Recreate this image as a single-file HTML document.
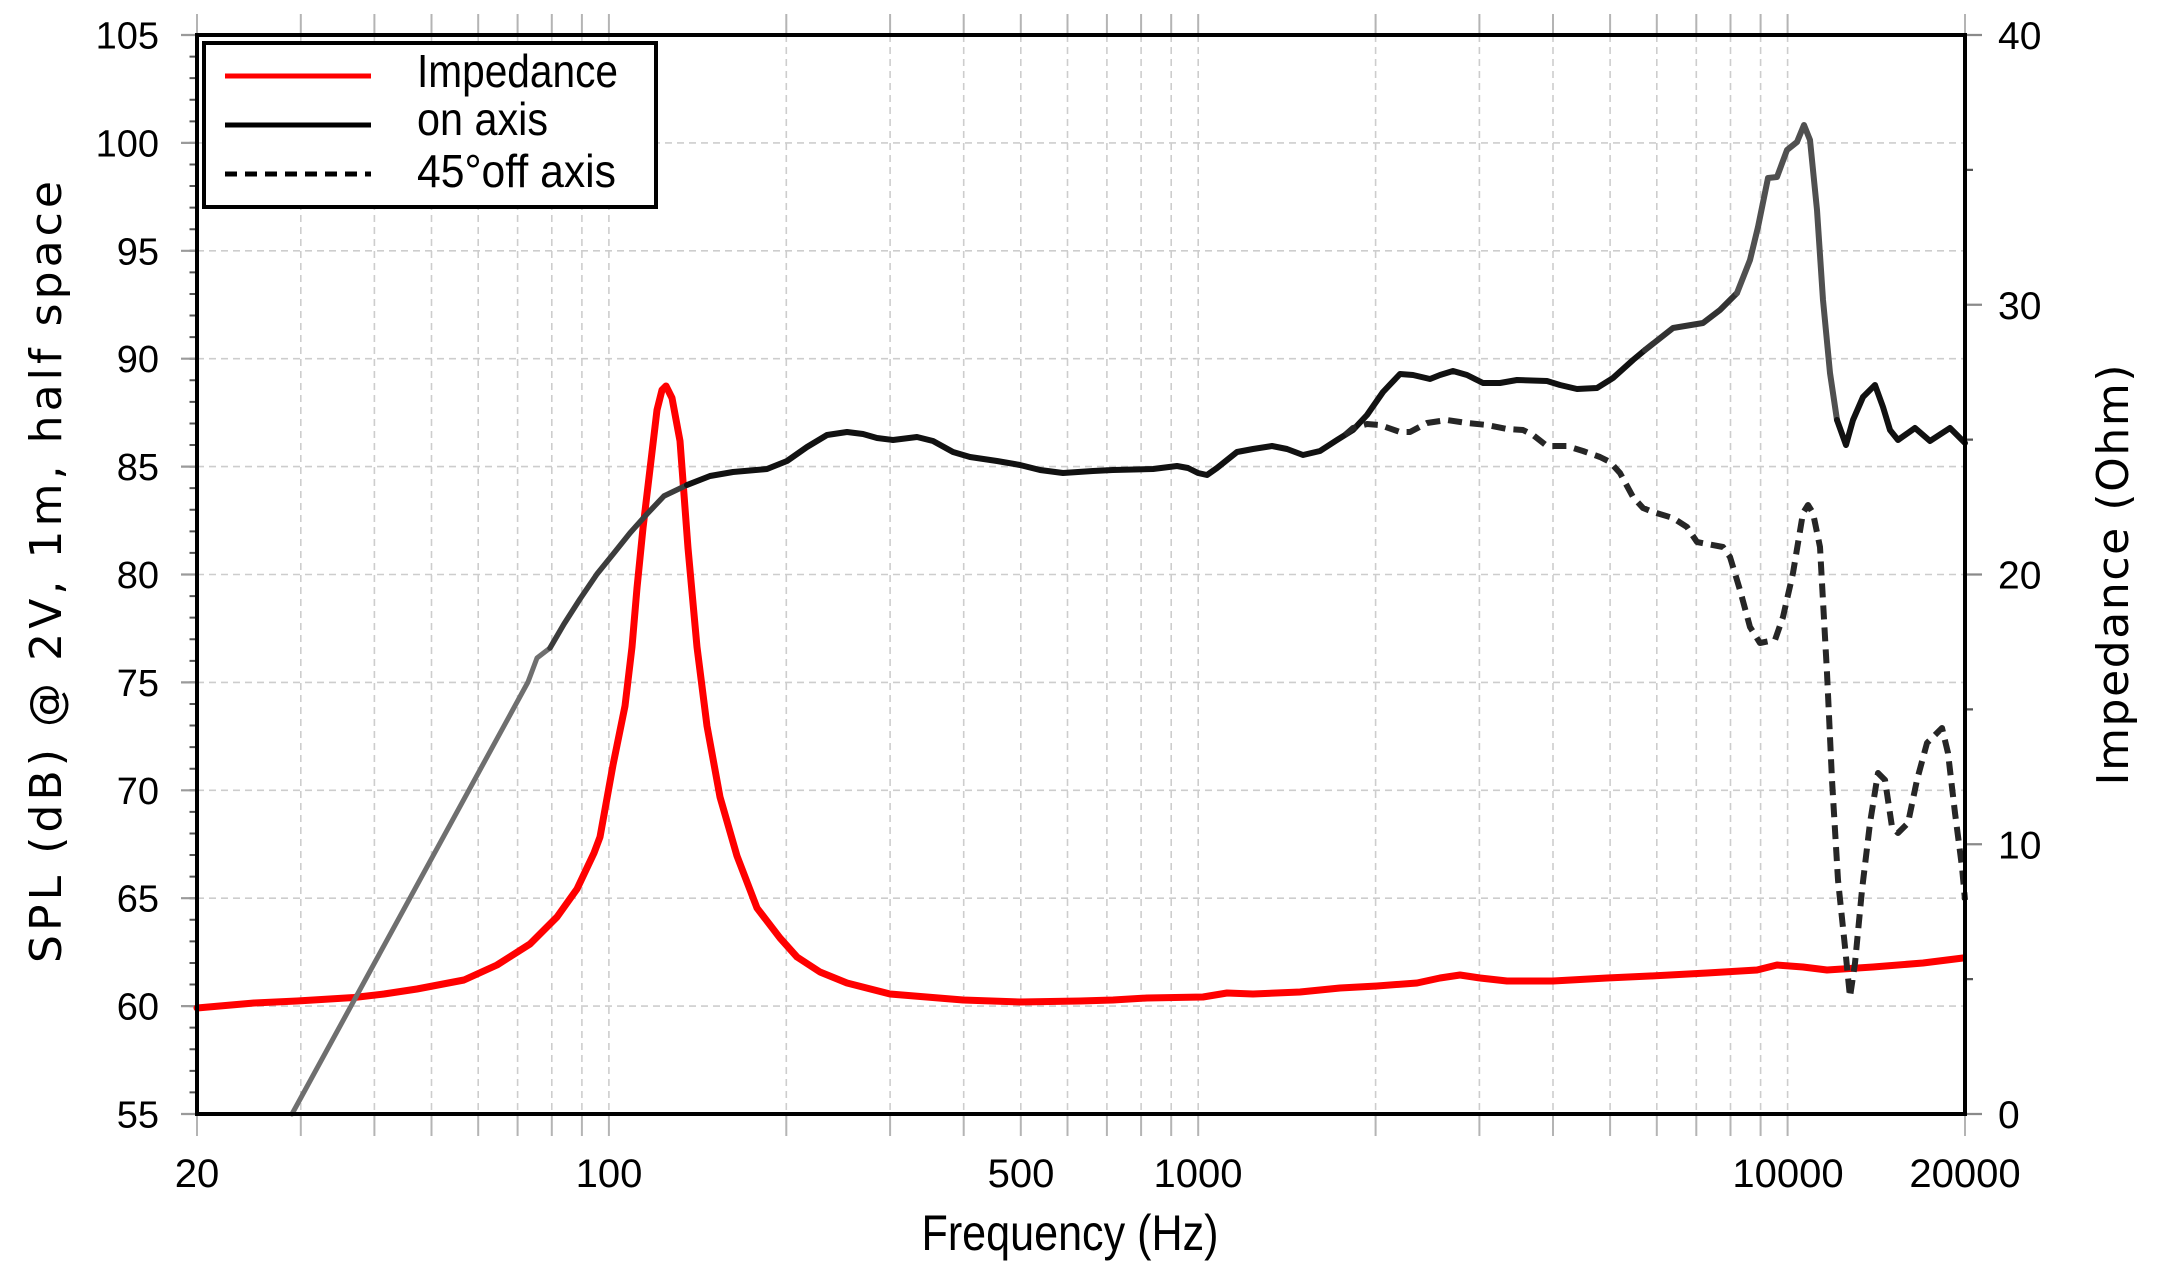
<!DOCTYPE html>
<html>
<head>
<meta charset="utf-8">
<style>
html,body{margin:0;padding:0;background:#fff;}
svg{display:block;}
</style>
</head>
<body>
<svg width="2162" height="1282" viewBox="0 0 2162 1282" xmlns="http://www.w3.org/2000/svg">
<rect x="0" y="0" width="2162" height="1282" fill="#fff"/>

<!-- grid: vertical -->
<g stroke="#cdcdcd" stroke-width="1.6" stroke-dasharray="7 5" fill="none">
<path d="M300.8 35V1114M374.4 35V1114M431.5 35V1114M478.2 35V1114M517.6 35V1114M551.8 35V1114M581.9 35V1114M608.9 35V1114M786.3 35V1114M890.1 35V1114M963.7 35V1114M1020.8 35V1114M1067.5 35V1114M1106.9 35V1114M1141.1 35V1114M1171.2 35V1114M1198.2 35V1114M1375.6 35V1114M1479.4 35V1114M1553 35V1114M1610.1 35V1114M1656.8 35V1114M1696.3 35V1114M1730.5 35V1114M1760.6 35V1114M1787.6 35V1114"/>
<!-- grid: horizontal -->
<path d="M197 1006.1H1965M197 898.2H1965M197 790.3H1965M197 682.4H1965M197 574.5H1965M197 466.6H1965M197 358.7H1965M197 250.8H1965M197 142.9H1965"/>
</g>

<!-- outer ticks top & bottom -->
<g stroke="#b4b4b4" stroke-width="2" fill="none">
<path d="M197 14V35M300.8 14V35M374.4 14V35M431.5 14V35M478.2 14V35M517.6 14V35M551.8 14V35M581.9 14V35M608.9 14V35M786.3 14V35M890.1 14V35M963.7 14V35M1020.8 14V35M1067.5 14V35M1106.9 14V35M1141.1 14V35M1171.2 14V35M1198.2 14V35M1375.6 14V35M1479.4 14V35M1553 14V35M1610.1 14V35M1656.8 14V35M1696.3 14V35M1730.5 14V35M1760.6 14V35M1787.6 14V35M1965 14V35"/>
<path d="M197 1114V1136M300.8 1114V1136M374.4 1114V1136M431.5 1114V1136M478.2 1114V1136M517.6 1114V1136M551.8 1114V1136M581.9 1114V1136M608.9 1114V1136M786.3 1114V1136M890.1 1114V1136M963.7 1114V1136M1020.8 1114V1136M1067.5 1114V1136M1106.9 1114V1136M1141.1 1114V1136M1171.2 1114V1136M1198.2 1114V1136M1375.6 1114V1136M1479.4 1114V1136M1553 1114V1136M1610.1 1114V1136M1656.8 1114V1136M1696.3 1114V1136M1730.5 1114V1136M1760.6 1114V1136M1787.6 1114V1136M1965 1114V1136"/>
</g>

<!-- left ticks -->
<path d="M193.5 1115V34" stroke="#555" stroke-width="8" stroke-dasharray="2 19.58" fill="none"/>
<g stroke="#9a9a9a" stroke-width="2.2" fill="none">
<path d="M181 1114H197M181 1006.1H197M181 898.2H197M181 790.3H197M181 682.4H197M181 574.5H197M181 466.6H197M181 358.7H197M181 250.8H197M181 142.9H197M181 35H197"/>
</g>
<!-- right ticks -->
<g stroke="#8a8a8a" stroke-width="2.2" fill="none">
<path d="M1965 1114H1982M1965 844.25H1982M1965 574.5H1982M1965 304.75H1982M1965 35H1982"/>
<path d="M1965 979.1H1973M1965 709.4H1973M1965 439.6H1973M1965 169.9H1973" stroke="#555"/>
</g>

<!-- curves -->
<g fill="none" stroke-linejoin="round" stroke-linecap="round">
<!-- impedance -->
<polyline stroke="#ff0000" stroke-width="7" points="197,1008 254,1003 297,1001 354,997.5 384,994 417,989 464,980 497,965 530,944 557,917 577,889 594,853 600,837 613,765 625,706 632,647 637,588 643,528 650,469 657,410 662,390 666,386 672,398 680,441 688,548 697,647 707,726 720,797 737,856 757,908 780,938 797,957 820,972 847,983 890,994 963,1000 1020,1002 1080,1001 1113,1000 1147,998 1203,997 1227,993 1253,994 1300,992 1340,988 1377,986 1417,983 1440,978 1460,975 1480,978 1507,981 1553,981 1607,978 1650,976 1707,973 1757,970 1777,965 1803,967 1827,970 1873,967 1923,963 1963,958"/>

<!-- on axis -->
<polyline stroke="#6f6f6f" stroke-width="5" points="292,1114 528,682 537,658 550,648"/>
<polyline stroke="#3c3c3c" stroke-width="5.5" points="550,648 564,624 580,599 597,574 614,553 630,533 647,514 664,496 687,485"/>
<polyline stroke="#111" stroke-width="6" points="687,485 710,476 733,472 767,469 787,461 807,447 827,435 847,432 863,434 877,438 893,440 917,437 933,441 953,452 970,457 997,461 1020,465 1040,470 1063,473 1093,471 1113,470 1153,469 1177,466 1188,468 1198,473 1207,475 1217,468 1237,452 1253,449 1272,446 1287,449 1303,455 1320,451 1337,440 1353,430 1367,415 1383,392 1400,374 1413,375 1430,379 1440,375 1453,371 1467,375 1483,383 1500,383 1517,380 1547,381 1560,385 1577,389 1597,388 1613,378 1633,360 1645,350"/>
<polyline stroke="#333" stroke-width="6" points="1645,350 1673,328 1703,323 1720,310 1737,293"/>
<polyline stroke="#505050" stroke-width="6" points="1737,293 1750,260 1758,227 1768,178 1777,177 1787,150 1797,142 1804,125 1810,140 1817,210 1823,300 1830,373 1837,420"/>
<polyline stroke="#111" stroke-width="6" points="1837,420 1846,445 1853,420 1863,397 1875,385 1883,407 1890,430 1898,440 1915,428 1930,441 1950,428 1965,443"/>

<!-- 45 off axis -->
<polyline stroke="#262626" stroke-width="6" stroke-linecap="butt" stroke-dasharray="14 8" points="1345,435 1353,428 1367,424 1380,425 1400,432 1410,432 1427,423 1447,420 1467,423 1487,425 1507,429 1523,430 1533,435 1547,446 1567,446 1583,451 1600,457 1610,462 1620,473 1633,497 1643,508 1653,512 1673,518 1687,527 1697,542 1723,547 1730,557 1740,590 1750,627 1760,643 1775,640 1783,617 1793,573 1803,513 1808,505 1813,513 1820,547 1827,673 1832,780 1838,880 1845,947 1850,997 1855,963 1862,890 1870,823 1878,773 1885,780 1892,827 1898,833 1908,823 1917,780 1927,743 1942,728 1948,753 1955,813 1962,867 1965,900"/>
</g>

<!-- frame -->
<rect x="197" y="35" width="1768" height="1079" fill="none" stroke="#000" stroke-width="4"/>

<!-- legend -->
<rect x="204" y="43" width="452" height="164" fill="#fff" stroke="#000" stroke-width="4"/>
<line x1="225" y1="76" x2="371" y2="76" stroke="#ff0000" stroke-width="5"/>
<line x1="225" y1="125" x2="371" y2="125" stroke="#000" stroke-width="5"/>
<line x1="225" y1="174" x2="371" y2="174" stroke="#000" stroke-width="5" stroke-dasharray="12 8"/>
<g font-family="'Liberation Sans', 'DejaVu Sans', sans-serif" font-size="46" fill="#000">
<text x="417" y="87" textLength="201" lengthAdjust="spacingAndGlyphs">Impedance</text>
<text x="417" y="135" textLength="131" lengthAdjust="spacingAndGlyphs">on axis</text>
<text x="417" y="187" textLength="199" lengthAdjust="spacingAndGlyphs">45°off axis</text>
</g>

<!-- y tick labels left -->
<g font-family="'Liberation Sans', sans-serif" font-size="38" fill="#000" text-anchor="end">
<text x="159" y="48.5">105</text>
<text x="159" y="156.4">100</text>
<text x="159" y="264.3">95</text>
<text x="159" y="372.2">90</text>
<text x="159" y="480.1">85</text>
<text x="159" y="588">80</text>
<text x="159" y="695.9">75</text>
<text x="159" y="803.8">70</text>
<text x="159" y="911.7">65</text>
<text x="159" y="1019.6">60</text>
<text x="159" y="1127.5">55</text>
</g>
<!-- y tick labels right -->
<g font-family="'Liberation Sans', sans-serif" font-size="39" fill="#000" text-anchor="start">
<text x="1998" y="49">40</text>
<text x="1998" y="318.75">30</text>
<text x="1998" y="588.5">20</text>
<text x="1998" y="858.25">10</text>
<text x="1998" y="1128">0</text>
</g>
<!-- x tick labels -->
<g font-family="'Liberation Sans', sans-serif" font-size="40" fill="#000" text-anchor="middle">
<text x="197" y="1187">20</text>
<text x="609" y="1187">100</text>
<text x="1021" y="1187">500</text>
<text x="1198" y="1187">1000</text>
<text x="1788" y="1187">10000</text>
<text x="1965" y="1187">20000</text>
</g>

<!-- axis titles -->
<text x="1070" y="1250" font-family="'Liberation Sans', sans-serif" font-size="50" text-anchor="middle" textLength="297" lengthAdjust="spacingAndGlyphs" fill="#000">Frequency (Hz)</text>
<text transform="translate(61,572) rotate(-90)" font-family="'DejaVu Sans', 'Liberation Sans', sans-serif" font-size="44" text-anchor="middle" textLength="782" lengthAdjust="spacing" fill="#000">SPL (dB) @ 2V, 1m, half space</text>
<text transform="translate(2128,575) rotate(-90)" font-family="'DejaVu Sans', 'Liberation Sans', sans-serif" font-size="44" text-anchor="middle" textLength="421" lengthAdjust="spacing" fill="#000">Impedance (Ohm)</text>
</svg>
</body>
</html>
